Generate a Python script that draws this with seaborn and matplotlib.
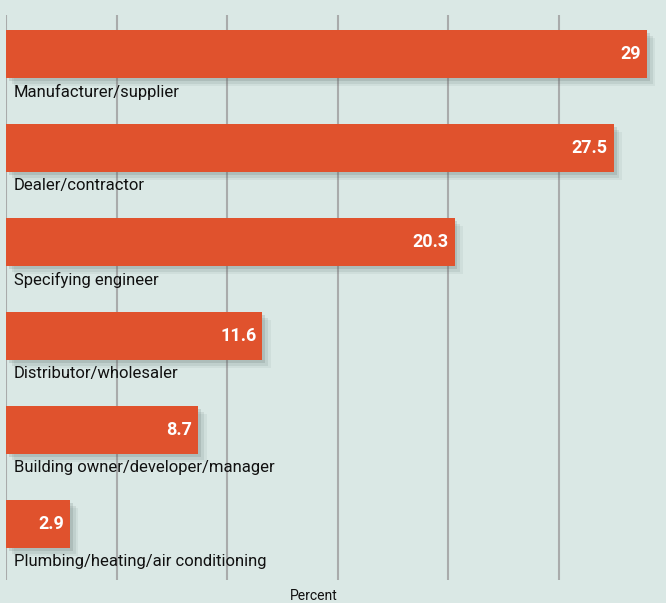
import numpy as np
import pandas as pd
import matplotlib
matplotlib.use("Agg")
import matplotlib.pyplot as plt
import matplotlib.patheffects as pe
import seaborn as sns

categories = ["Manufacturer/supplier", "Dealer/contractor", "Specifying engineer",
              "Distributor/wholesaler", "Building owner/developer/manager",
              "Plumbing/heating/air conditioning"]
values = [29, 27.5, 20.3, 11.6, 8.7, 2.9]
value_labels = ["29", "27.5", "20.3", "11.6", "8.7", "2.9"]

bg = "#dae8e5"
bar_color = "#e0522d"

sns.set_style("white")
plt.rcParams["font.family"] = ["Roboto", "DejaVu Sans"]

df = pd.DataFrame({"cat": categories, "val": values})

fig = plt.figure(figsize=(6.66, 6.03), dpi=100, facecolor=bg)
ax = fig.add_axes([6 / 666, 23 / 603, 660 / 666, 565 / 603])
ax.set_facecolor(bg)

sns.barplot(data=df, x="val", y="cat", orient="h", color=bar_color,
            width=0.51, saturation=1, ax=ax, zorder=3)

# soft drop shadow
for p in ax.patches:
    p.set_path_effects([
        pe.SimplePatchShadow(offset=(6, -6), shadow_rgbFace="#5a6b68", alpha=0.08),
        pe.SimplePatchShadow(offset=(4, -4), shadow_rgbFace="#5a6b68", alpha=0.12),
        pe.SimplePatchShadow(offset=(2, -2), shadow_rgbFace="#5a6b68", alpha=0.18),
        pe.Normal(),
    ])
    p.set_edgecolor("none")

ax.set_xlim(0, 29.86)
ax.set_ylim(5.596, -0.415)
ax.set_xticks([0, 5, 10, 15, 20, 25])
ax.set_xticklabels([])
ax.set_yticks([])
ax.tick_params(length=0)
ax.grid(axis="x", color="#a9abab", linewidth=1.5)
ax.set_axisbelow(True)
for s in ax.spines.values():
    s.set_visible(False)
ax.set_xlabel("")
ax.set_ylabel("")

for i, (cat, v, lab) in enumerate(zip(categories, values, value_labels)):
    ax.text(0.36, i + 0.40, cat, ha="left", va="center", fontsize=12,
            color="#111111", zorder=5)
    ax.text(v - 0.27, i, lab, ha="right", va="center", fontsize=13,
            fontweight="bold", color="white", zorder=5)

fig.text(314 / 666, 1 - 596 / 603, "Percent", ha="center", va="center",
         fontsize=10, color="#111111")

fig.savefig("out.png", dpi=100, facecolor=bg)
